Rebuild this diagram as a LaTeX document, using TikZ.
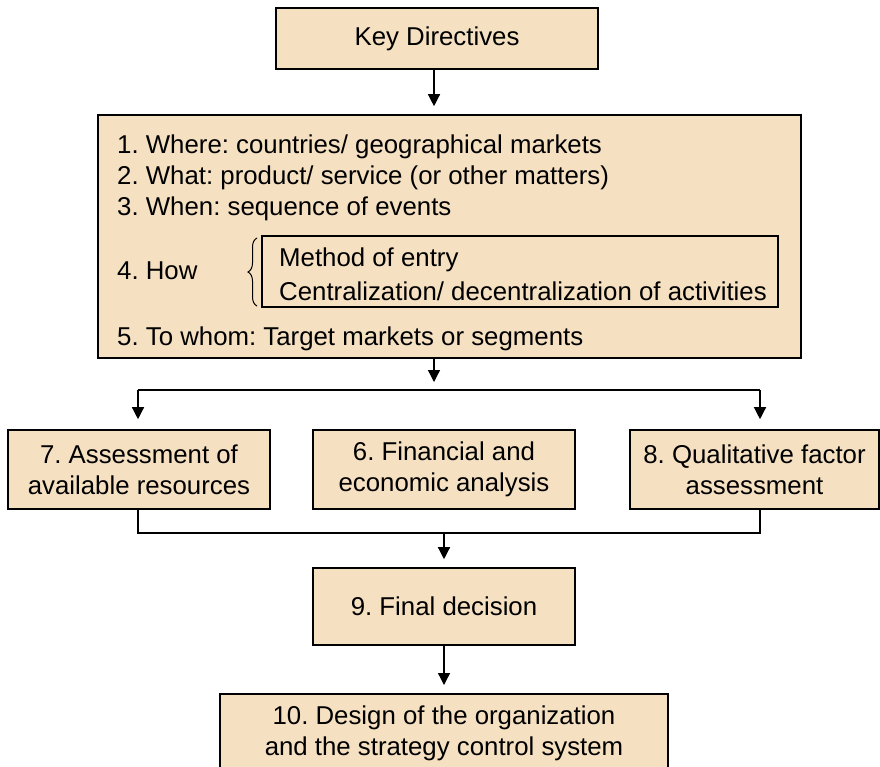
\documentclass[tikz,border=0pt]{standalone}
\usepackage{fontspec}
\setmainfont{Liberation Sans}
\usepackage{xcolor}
\usetikzlibrary{arrows.meta, decorations.pathreplacing}
\definecolor{boxtan}{RGB}{245,224,193}
\frenchspacing

\tikzset{
  stepbox/.style={draw, line width=1.6pt, fill=boxtan, align=center, inner sep=0pt,
    font=\fontsize{25.8}{31}\selectfont},
  itemtext/.style={anchor=west, inner sep=0pt, font=\fontsize{25.8}{31}\selectfont},
  conn/.style={line width=1.3pt},
  arr/.style={conn, -{Triangle[width=12pt,length=12pt]}}
}

\begin{document}
\begin{tikzpicture}[x=1pt, y=-1pt]
    \useasboundingbox (0,0) rectangle (880,766);
    \clip (0,0) rectangle (880,766);

    % top box and the list of directives
    \node[stepbox, minimum width=322, minimum height=61] (key) at (437,38.5) {Key Directives};
    \node[stepbox, minimum width=703, minimum height=243] (dir) at (449.5,236.5) {};
    \node[itemtext] (where) at (117,147) {1. Where: countries/ geographical markets};
    \node[itemtext] (what) at (117,178) {2. What: product/ service (or other matters)};
    \node[itemtext] (when) at (117,209) {3. When: sequence of events};
    \node[itemtext] (how) at (117,271) {4. How};
    \node[itemtext] (whom) at (117,339) {5. To whom: Target markets or segments};
    \node[draw, line width=1.2pt, minimum width=516, minimum height=71, inner sep=0pt] (howbox) at (520,271.5) {};
    \node[itemtext] (entry) at (279,260) {Method of entry};
    \node[itemtext] (central) at (279,291) {Centralization/ decentralization of activities};
    \draw[line width=1pt, decorate, decoration={brace, amplitude=9pt}] (257,306) -- (257,238);

    % the three analyses
    \node[stepbox, minimum width=262, minimum height=79] (assess) at (139,469.5) {7. Assessment of\\available resources};
    \node[stepbox, minimum width=262, minimum height=79] (finance) at (444,469.5) {6. Financial and\\economic analysis};
    \node[stepbox, minimum width=249, minimum height=79] (qual) at (754.5,469.5) {8. Qualitative factor\\assessment};

    % decision and design
    \node[stepbox, minimum width=262, minimum height=77] (final) at (444,606.5) {9. Final decision};
    \node[stepbox, minimum width=448, minimum height=80, anchor=north] (design) at (444,693) {10. Design of the organization\\and the strategy control system};

    \coordinate (split) at (434,390);
    \coordinate (splitl) at (138,390);
    \coordinate (splitr) at (760,390);
    \coordinate (mergel) at (138,533);
    \coordinate (merger) at (760,533);
    \coordinate (merge) at (444,533);

    \draw[arr, shorten >=8pt] (split |- key.south) -- (split |- dir.north);
    \draw[arr, shorten >=8pt] (split |- dir.south) -- (split);
    \draw[conn] (splitl) -- (splitr);
    \draw[arr, shorten >=10pt] (splitl) -- (splitl |- assess.north);
    \draw[arr, shorten >=10pt] (splitr) -- (splitr |- qual.north);
    \draw[conn] (mergel |- assess.south) -- (mergel) -- (merger) -- (merger |- qual.south);
    \draw[arr, shorten >=8pt] (merge) -- (final.north);
    \draw[arr, shorten >=8pt] (final.south) -- (design.north);
\end{tikzpicture}
\end{document}
